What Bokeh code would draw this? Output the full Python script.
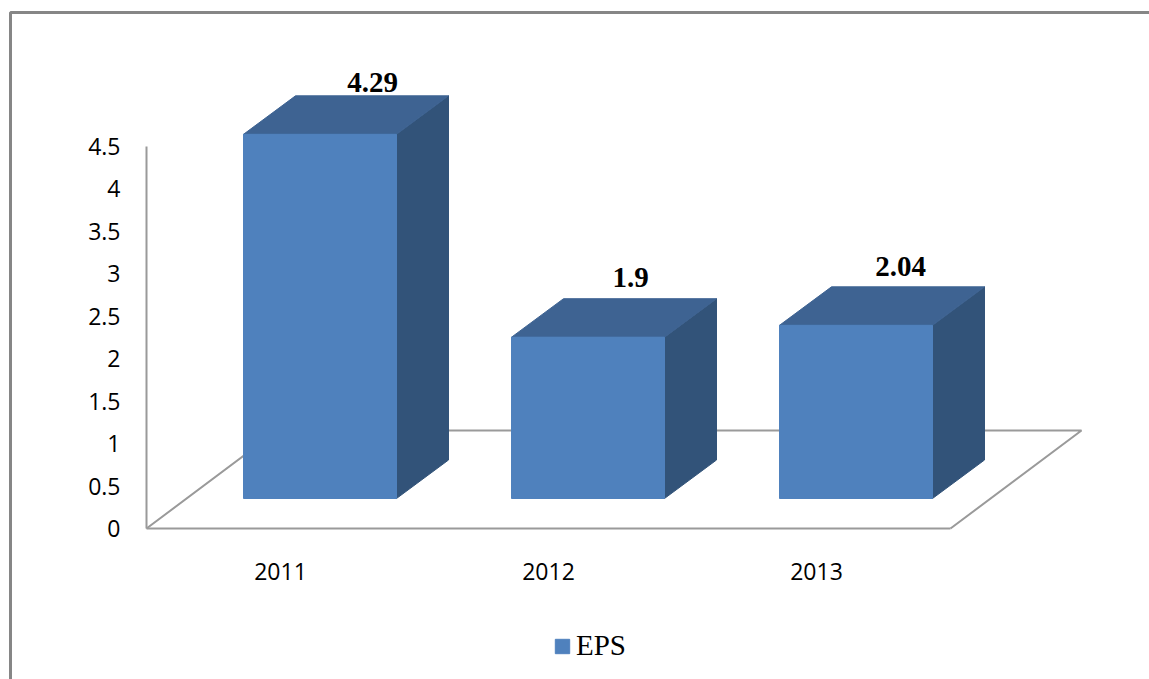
from bokeh.plotting import figure
from bokeh.models import Range1d, FixedTicker, ColumnDataSource, Legend, LegendItem
from bokeh.core.properties import value
from bokeh.embed import file_html
from bokeh.resources import INLINE

categories = ["2011", "2012", "2013"]
eps_values = [4.29, 1.9, 2.04]
y_ticks = [0, 0.5, 1, 1.5, 2, 2.5, 3, 3.5, 4, 4.5]
y_labels = ["0", "0.5", "1", "1.5", "2", "2.5", "3", "3.5", "4", "4.5"]
series_name = "EPS"

W, H = 1149, 679
UX, UY = 268.0, 84.89          # pixels per category / per unit of value
X0_PX, Y0_PX = 280.0, 528.0    # where category 0 and value 0 fall in the figure

x_rng = Range1d(-X0_PX / UX, (W - X0_PX) / UX)
y_rng = Range1d((Y0_PX - H) / UY, Y0_PX / UY)

# oblique depth of the drawing, in data units
FLOOR_DX, FLOOR_DY = 131 / UX, 98 / UY
GAP_DX, GAP_DY = 39.5 / UX, 30 / UY
BAR_DX, BAR_DY = 52 / UX, 38.5 / UY
HALF = 76.5 / UX
N = len(categories)

p = figure(width=W, height=H, x_range=x_rng, y_range=y_rng,
           output_backend="svg", toolbar_location=None,
           min_border=0, min_border_left=0, min_border_right=0,
           min_border_top=0, min_border_bottom=0,
           background_fill_color="white", border_fill_color="white")
p.outline_line_color = None
p.grid.visible = False

GRAY = "#9a9a9a"

# chart frame: only its top and left edges are inside the picture
fx = -X0_PX / UX + 10 / UX
fy = Y0_PX / UY - 12 / UY
p.line([fx, fx, x_rng.end], [y_rng.start, fy, fy], line_color="#868686", line_width=3)

# floor
left, right = -0.5, N - 0.5
p.line([left, left + FLOOR_DX, right + FLOOR_DX, right],
       [0, FLOOR_DY, FLOOR_DY, 0], line_color=GRAY, line_width=2)

front_x, front_y, top_x, top_y, side_x, side_y = [], [], [], [], [], []
for i, v in enumerate(eps_values):
    x1 = i + GAP_DX - HALF
    x2 = i + GAP_DX + HALF
    y1 = GAP_DY
    y2 = GAP_DY + v
    front_x.append([x1, x2, x2, x1])
    front_y.append([y1, y1, y2, y2])
    top_x.append([x1, x2, x2 + BAR_DX, x1 + BAR_DX])
    top_y.append([y2, y2, y2 + BAR_DY, y2 + BAR_DY])
    side_x.append([x2, x2 + BAR_DX, x2 + BAR_DX, x2])
    side_y.append([y1, y1 + BAR_DY, y2 + BAR_DY, y2])

p.patches(side_x, side_y, fill_color="#325379", line_color="#325379", line_width=1)
p.patches(top_x, top_y, fill_color="#3E6392", line_color="#3E6392", line_width=1)
front = p.patches(front_x, front_y, fill_color="#4F81BD", line_color="#4F81BD", line_width=1)

# value labels
src = ColumnDataSource(dict(
    x=[i + GAP_DX for i in range(N)],
    y=[GAP_DY + v + BAR_DY for v in eps_values],
    text=[str(v) for v in eps_values],
    dx=[52.5, 42.5, 44.5],
    dy=[-13, -21, -20],
))
p.text("x", "y", text="text", source=src, x_offset="dx", y_offset="dy",
       text_font=value("Liberation Serif"), text_font_style="bold",
       text_font_size="29px", text_color="black",
       text_align="center", text_baseline="middle")

# axes
ya = p.yaxis[0]
ya.fixed_location = left
ya.bounds = (0, 4.5)
ya.ticker = FixedTicker(ticks=y_ticks)
ya.major_label_overrides = dict(zip(y_ticks, y_labels))
ya.major_tick_line_color = None
ya.minor_tick_line_color = None
ya.major_tick_out = 0
ya.major_tick_in = 0
ya.axis_line_color = GRAY
ya.axis_line_width = 2
ya.major_label_standoff = 26
ya.major_label_text_font = "Open Sans"
ya.major_label_text_font_size = "23px"
ya.major_label_text_color = "black"

xa = p.xaxis[0]
xa.fixed_location = 0
xa.bounds = (left, right)
xa.ticker = FixedTicker(ticks=list(range(N)))
xa.major_label_overrides = {i: c for i, c in enumerate(categories)}
xa.major_tick_line_color = None
xa.minor_tick_line_color = None
xa.major_tick_out = 0
xa.major_tick_in = 0
xa.axis_line_color = GRAY
xa.axis_line_width = 2
xa.major_label_standoff = 34
xa.major_label_text_font = "Open Sans"
xa.major_label_text_font_size = "23px"
xa.major_label_text_color = "black"

legend = Legend(items=[LegendItem(label=series_name, renderers=[front])],
                location=(553, 17), orientation="horizontal",
                background_fill_alpha=0, border_line_color=None,
                margin=0, padding=0, spacing=0,
                glyph_width=18, glyph_height=18, label_standoff=5,
                label_text_font="Liberation Serif", label_text_font_size="29px",
                label_text_color="black", label_height=28)
p.add_layout(legend, "center")

open("out.html", "w").write(file_html(p, INLINE))
